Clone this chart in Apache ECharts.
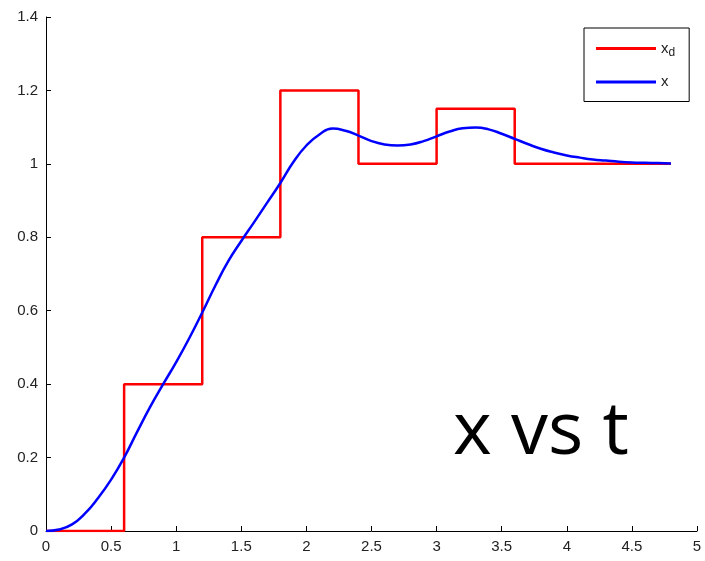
<!DOCTYPE html>
<html><head><meta charset="utf-8">
<script src="https://cdn.jsdelivr.net/npm/echarts@6/dist/echarts.min.js"></script>
<style>html,body{margin:0;padding:0;background:#fff}#c{width:705px;height:561px}</style>
</head><body><div id="c"></div>
<script>
// Desired position x_d (step): switch times and levels
const stepT = [0, 0.6, 1.2, 1.8, 2.4, 3.0, 3.6, 4.8];
const stepXd = [0, 0.4, 0.8, 1.2, 1.0, 1.15, 1.0, 1.0];
// Actual position x
const tVals = [0,0.1,0.2,0.3,0.4,0.5,0.6,0.7,0.8,0.9,1.0,1.1,1.2,1.3,1.4,1.5,1.6,1.7,1.8,1.9,2.0,2.1,2.2,2.3,2.4,2.5,2.6,2.7,2.8,2.9,3.0,3.1,3.2,3.3,3.4,3.5,3.6,3.7,3.8,3.9,4.0,4.1,4.2,4.3,4.4,4.5,4.6,4.7,4.8];
const xVals = [0,0.004,0.018,0.048,0.09,0.14,0.2,0.27,0.338,0.4,0.46,0.525,0.595,0.668,0.735,0.79,0.842,0.895,0.948,1.005,1.05,1.08,1.096,1.09,1.077,1.062,1.053,1.05,1.053,1.062,1.075,1.088,1.097,1.099,1.094,1.082,1.068,1.054,1.041,1.031,1.023,1.017,1.012,1.009,1.006,1.004,1.003,1.002,1.001];
const xTicks = [0,0.5,1,1.5,2,2.5,3,3.5,4,4.5,5];
const yTicks = [0,0.2,0.4,0.6,0.8,1,1.2,1.4];
const legendNames = ['xd', 'x'];
const titleText = 'x vs t';

const chart = echarts.init(document.getElementById('c'));
const axisCommon = {
  axisLine: {show: true, lineStyle: {color: '#000', width: 1}},
  axisTick: {show: true, inside: true, length: 5, lineStyle: {color: '#000'}},
  splitLine: {show: false},
  axisLabel: {color: '#222', fontSize: 15, fontFamily: 'Liberation Sans, Arial, sans-serif'}
};
chart.setOption({
  animation: false,
  backgroundColor: '#fff',
  grid: {left: 46, right: 8, top: 17, bottom: 30, containLabel: false},
  xAxis: Object.assign({type: 'value', min: xTicks[0], max: xTicks[xTicks.length-1], interval: 0.5}, axisCommon,
    {axisLabel: Object.assign({}, axisCommon.axisLabel, {margin: 8})}),
  yAxis: Object.assign({type: 'value', min: yTicks[0], max: yTicks[yTicks.length-1], interval: 0.2}, axisCommon,
    {axisLabel: Object.assign({}, axisCommon.axisLabel, {margin: 8})}),
  legend: {
    orient: 'vertical', left: 584, top: 28,
    data: legendNames,
    backgroundColor: '#fff', borderColor: '#000', borderWidth: 1,
    padding: [13, 14, 12, 12], itemGap: 16, itemWidth: 60, itemHeight: 3,
    icon: 'rect',
    formatter: function(n){ return n === 'xd' ? '{m|x}{s|d}' : '{m|x}'; },
    textStyle: {
      color: '#222', fontFamily: 'Liberation Sans, Arial, sans-serif', fontSize: 15,
      rich: {
        m: {fontSize: 15, fontFamily: 'Liberation Sans, Arial, sans-serif', color: '#222'},
        s: {fontSize: 12, fontFamily: 'Liberation Sans, Arial, sans-serif', color: '#222', verticalAlign: 'bottom', padding: [8,0,0,0]}
      }
    }
  },
  graphic: [{
    type: 'text', left: 453, top: 396,
    style: {text: titleText, fontSize: 74, fontFamily: 'Open Sans, Lato, sans-serif', fill: '#000'}
  }],
  series: [
    {name: 'xd', type: 'line', step: 'end', showSymbol: false, symbol: 'none',
     lineStyle: {color: '#ff0000', width: 2.5}, itemStyle: {color: '#ff0000'},
     data: stepT.map((t, i) => [t, stepXd[i]])},
    {name: 'x', type: 'line', showSymbol: false, symbol: 'none', smooth: 0.5,
     lineStyle: {color: '#0000ff', width: 2.5}, itemStyle: {color: '#0000ff'},
     data: tVals.map((t, i) => [t, xVals[i]])}
  ]
});
</script></body></html>
